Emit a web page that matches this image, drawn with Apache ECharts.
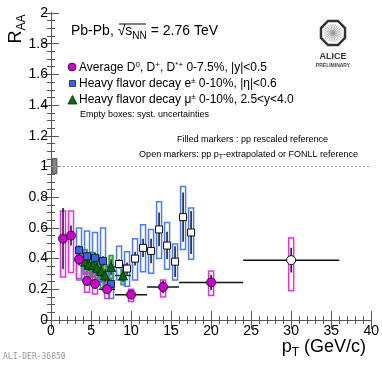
<!DOCTYPE html>
<html>
<head>
<meta charset="UTF-8">
<title>RAA heavy flavour Pb-Pb</title>
<script src="https://cdn.jsdelivr.net/npm/echarts@6.0.0/dist/echarts.min.js"></script>
<style>
  html, body { margin: 0; padding: 0; background: #fff; }
  #chart { width: 382px; height: 365px; }
</style>
</head>
<body>
<div id="chart"></div>
<script>
// average D0, D+, D*+ (pp rescaled reference, filled)
var dPt    = [1.5, 2.5, 3.5, 4.5, 5.5, 7, 10, 14, 20];
var dRaa   = [0.53, 0.55, 0.395, 0.255, 0.235, 0.20, 0.165, 0.215, 0.245];
var dStat  = [0.20, 0.065, 0.04, 0.03, 0.03, 0.03, 0.02, 0.04, 0.05];
var dXerr  = [0.5, 0.5, 0.5, 0.5, 0.5, 1, 2, 2, 4];
var dSysLo = [0.28, 0.31, 0.27, 0.18, 0.17, 0.14, 0.12, 0.15, 0.16];
var dSysHi = [0.71, 0.71, 0.47, 0.31, 0.30, 0.25, 0.20, 0.26, 0.32];
// D at 24-36 GeV/c, FONLL reference (open)
var dOpenPt    = [30];
var dOpenRaa   = [0.39];
var dOpenStat  = [0.08];
var dOpenXerr  = [6];
var dOpenSysLo = [0.19];
var dOpenSysHi = [0.535];

// HF decay electrons, filled (pp reference)
var ePt    = [3.5, 4.5, 5.5, 6.5, 7.5];
var eRaa   = [0.455, 0.415, 0.405, 0.385, 0.235];
var eStat  = [0.03, 0.03, 0.03, 0.03, 0.03];
var eXerr  = [0.5, 0.5, 0.5, 0.5, 0.5];
var eSysLo = [0.26, 0.23, 0.22, 0.21, 0.14];
var eSysHi = [0.60, 0.58, 0.57, 0.60, 0.36];
// HF decay electrons, open (extrapolated reference)
var eOpenPt    = [8.5, 9.5, 10.5, 11.5, 12.5, 13.5, 14.5, 15.5, 16.5, 17.5];
var eOpenRaa   = [0.365, 0.335, 0.40, 0.47, 0.45, 0.59, 0.485, 0.38, 0.67, 0.57];
var eOpenStat  = [0.03, 0.04, 0.045, 0.06, 0.08, 0.11, 0.09, 0.10, 0.16, 0.14];
var eOpenXerr  = [0.5, 0.5, 0.5, 0.5, 0.5, 0.5, 0.5, 0.5, 0.5, 0.5];
var eOpenSysLo = [0.26, 0.22, 0.26, 0.315, 0.305, 0.40, 0.33, 0.26, 0.46, 0.395];
var eOpenSysHi = [0.48, 0.445, 0.53, 0.62, 0.59, 0.77, 0.635, 0.495, 0.87, 0.73];

// HF decay muons, 2.5<y<4
var muPt    = [4.25, 4.75, 5.25, 5.75, 6.25, 6.75, 7.5, 9];
var muRaa   = [0.38, 0.36, 0.36, 0.34, 0.32, 0.29, 0.345, 0.29];
var muStat  = [0.04, 0.04, 0.04, 0.04, 0.04, 0.04, 0.05, 0.04];
var muXerr  = [0.25, 0.25, 0.25, 0.25, 0.25, 0.25, 0.5, 1];
var muSysLo = [0.30, 0.28, 0.28, 0.27, 0.25, 0.22, 0.27, 0.23];
var muSysHi = [0.46, 0.44, 0.44, 0.42, 0.40, 0.36, 0.42, 0.36];

// normalisation uncertainty at unity
var normPt = [0.45];
var normLo = [0.955];
var normHi = [1.05];
var refX = [0, 40];
var refY = [1, 1];

var xTicks = [0, 5, 10, 15, 20, 25, 30, 35, 40];

var FONT = '"Liberation Sans", Arial, sans-serif';

function boxData(xs, lo, hi) {
    return xs.map(function (x, i) { return [x, lo[i], hi[i]]; });
}
function errData(xs, ys, xe, ye) {
    return xs.map(function (x, i) { return [x, ys[i], xe[i], ye[i]]; });
}
function ptData(xs, ys) {
    return xs.map(function (x, i) { return [x, ys[i]]; });
}

function boxRender(w, stroke, fill) {
    return function (params, api) {
        var top = api.coord([api.value(0), api.value(2)]);
        var bot = api.coord([api.value(0), api.value(1)]);
        return {
            type: 'rect',
            shape: { x: top[0] - w / 2, y: top[1], width: w, height: bot[1] - top[1] },
            style: { fill: fill, stroke: stroke, lineWidth: 1.5 }
        };
    };
}
function errRender(color, lw) {
    return function (params, api) {
        var x = api.value(0), y = api.value(1), ex = api.value(2), ey = api.value(3);
        var a = api.coord([x - ex, y]), b = api.coord([x + ex, y]);
        var c = api.coord([x, y - ey]), d = api.coord([x, y + ey]);
        return {
            type: 'group',
            children: [
                { type: 'line', shape: { x1: a[0], y1: a[1], x2: b[0], y2: b[1] }, style: { stroke: color, lineWidth: lw } },
                { type: 'line', shape: { x1: c[0], y1: c[1], x2: d[0], y2: d[1] }, style: { stroke: color, lineWidth: lw } }
            ]
        };
    };
}
function boxSeries(data, w, stroke, fill) {
    return { type: 'custom', data: data, encode: { x: 0, y: 1 }, renderItem: boxRender(w, stroke, fill), silent: true };
}
function errSeries(data, color, lw) {
    return { type: 'custom', data: data, encode: { x: 0, y: 1 }, renderItem: errRender(color, lw), silent: true };
}
function markSeries(data, symbol, size, fill, border) {
    return {
        type: 'scatter', data: data, symbol: symbol, symbolSize: size,
        itemStyle: { color: fill, borderColor: border, borderWidth: 1, opacity: 1 }
    };
}

// ALICE logo bits (pure decoration)
var logoCx = 333, logoCy = 33, logoR = 13;
var octagon = [];
for (var k = 0; k < 8; k++) {
    var ang = Math.PI / 8 + k * Math.PI / 4;
    octagon.push([logoCx + logoR * Math.cos(ang), logoCy + logoR * Math.sin(ang)]);
}
var rays = [];
for (var r = 0; r < 24; r++) {
    var t = r * Math.PI / 12;
    rays.push({
        type: 'line',
        shape: { x1: logoCx, y1: logoCy, x2: logoCx + 9 * Math.cos(t), y2: logoCy + 9 * Math.sin(t) },
        style: { stroke: '#999', lineWidth: 0.7 }
    });
}

var sub = { fontSize: 10, fontFamily: FONT, verticalAlign: 'bottom', lineHeight: 10 };
var sup = { fontSize: 8, fontFamily: FONT, verticalAlign: 'top', lineHeight: 8 };

var chart = echarts.init(document.getElementById('chart'));

var axisStyle = { lineStyle: { color: '#555', width: 1 } };

var option = {
    animation: false,
    grid: { left: 51, right: 9, top: 13, bottom: 45, containLabel: false },
    xAxis: [{
        type: 'value', min: 0, max: 40, interval: 5,
        axisLine: axisStyle,
        axisTick: { inside: true, length: 9, lineStyle: { color: '#555' } },
        minorTick: { show: true, splitNumber: 5, length: 4, lineStyle: { color: '#555' } },
        splitLine: { show: false },
        axisLabel: { fontSize: 14, color: '#000', fontFamily: FONT, margin: 4,
            formatter: function (v) { return xTicks.indexOf(v) >= 0 ? String(v) : ''; } }
    }, {
        type: 'value', min: 0, max: 40, interval: 5, position: 'top',
        axisLine: axisStyle,
        axisTick: { inside: true, length: 9, lineStyle: { color: '#555' } },
        minorTick: { show: true, splitNumber: 5, length: 4, lineStyle: { color: '#555' } },
        splitLine: { show: false }, axisLabel: { show: false }
    }],
    yAxis: [{
        type: 'value', min: 0, max: 2, interval: 0.2,
        axisLine: axisStyle,
        axisTick: { inside: true, length: 8, lineStyle: { color: '#555' } },
        minorTick: { show: true, splitNumber: 4, length: 4, lineStyle: { color: '#555' } },
        splitLine: { show: false },
        axisLabel: { fontSize: 14, color: '#000', fontFamily: FONT, margin: 3 }
    }, {
        type: 'value', min: 0, max: 2, interval: 0.2, position: 'right',
        axisLine: axisStyle,
        axisTick: { inside: true, length: 8, lineStyle: { color: '#555' } },
        minorTick: { show: true, splitNumber: 4, length: 4, lineStyle: { color: '#555' } },
        splitLine: { show: false }, axisLabel: { show: false }
    }],
    series: [
        {
            type: 'line', data: ptData(refX, refY), symbol: 'none', silent: true,
            lineStyle: { color: '#999', width: 1, type: [2, 2] }
        },
        boxSeries(boxData(normPt, normLo, normHi), 4, '#666', '#888'),
        boxSeries(boxData(muPt, muSysLo, muSysHi), 4, '#2f9e2f', 'rgba(30,140,30,0.45)'),
        boxSeries(boxData(ePt, eSysLo, eSysHi), 5, '#4d7cf0', 'none'),
        boxSeries(boxData(eOpenPt, eOpenSysLo, eOpenSysHi), 5, '#4d7cf0', 'none'),
        boxSeries(boxData(dPt, dSysLo, dSysHi), 5, '#dd33dd', 'none'),
        boxSeries(boxData(dOpenPt, dOpenSysLo, dOpenSysHi), 5, '#dd33dd', 'none'),
        errSeries(errData(muPt, muRaa, muXerr, muStat), '#0e3d0e', 1.5),
        errSeries(errData(ePt, eRaa, eXerr, eStat), '#111', 1.5),
        errSeries(errData(eOpenPt, eOpenRaa, eOpenXerr, eOpenStat), '#111', 1.5),
        errSeries(errData(dPt, dRaa, dXerr, dStat), '#111', 1.5),
        errSeries(errData(dOpenPt, dOpenRaa, dOpenXerr, dOpenStat), '#111', 1.5),
        markSeries(ptData(muPt, muRaa), 'triangle', 9, '#0a6a0a', '#063006'),
        markSeries(ptData(ePt, eRaa), 'rect', 7, '#3366ee', '#222'),
        markSeries(ptData(eOpenPt, eOpenRaa), 'rect', 7, '#fff', '#111'),
        markSeries(ptData(dPt, dRaa), 'circle', 9, '#cc00cc', '#222'),
        markSeries(ptData(dOpenPt, dOpenRaa), 'circle', 9, '#fff', '#111')
    ],
    graphic: [
        {
            type: 'text', x: 16, y: 29, rotation: Math.PI / 2,
            style: {
                text: '{m|R}{s|AA}', align: 'center', verticalAlign: 'middle',
                rich: { m: { fontSize: 18, fontFamily: FONT, lineHeight: 24 }, s: { fontSize: 12, fontFamily: FONT, verticalAlign: 'bottom', lineHeight: 12 } }
            }
        },
        {
            type: 'text', x: 366, y: 347,
            style: {
                text: '{m|p}{s|T}{m| (GeV/c)}', align: 'right', verticalAlign: 'middle',
                rich: { m: { fontSize: 18, fontFamily: FONT, lineHeight: 24 }, s: { fontSize: 12, fontFamily: FONT, verticalAlign: 'bottom', lineHeight: 12 } }
            }
        },
        {
            type: 'text', x: 71, y: 31,
            style: {
                text: '{m|Pb-Pb, \u221a}{m|s}{s|NN}{m| = 2.76 TeV}', verticalAlign: 'middle',
                rich: { m: { fontSize: 14, fontFamily: FONT, lineHeight: 20 }, s: sub }
            }
        },
        { type: 'line', shape: { x1: 119, y1: 24, x2: 146, y2: 24 }, style: { stroke: '#000', lineWidth: 1 } },
        // legend
        { type: 'circle', shape: { cx: 72, cy: 67, r: 4 }, style: { fill: '#cc00cc', stroke: '#222', lineWidth: 0.8 } },
        {
            type: 'text', x: 79, y: 68,
            style: {
                text: '{m|Average D}{p|0}{m|, D}{p|+}{m|, D}{p|*+}{m| 0-7.5%, |y|<0.5}', verticalAlign: 'middle',
                rich: { m: { fontSize: 12, fontFamily: FONT, lineHeight: 15 }, p: sup }
            }
        },
        { type: 'rect', shape: { x: 69.5, y: 80.5, width: 6, height: 6 }, style: { fill: '#3366ee', stroke: '#222', lineWidth: 0.8 } },
        {
            type: 'text', x: 79, y: 84,
            style: {
                text: '{m|Heavy flavor decay e}{p|\u00b1}{m| 0-10%, |\u03b7|<0.6}', verticalAlign: 'middle',
                rich: { m: { fontSize: 12, fontFamily: FONT, lineHeight: 15 }, p: sup }
            }
        },
        { type: 'polygon', shape: { points: [[72.5, 95.5], [77, 104], [68, 104]] }, style: { fill: '#0a6a0a', stroke: '#063006', lineWidth: 0.8 } },
        {
            type: 'text', x: 79, y: 100,
            style: {
                text: '{m|Heavy flavor decay \u03bc}{p|\u00b1}{m| 0-10%, 2.5<y<4.0}', verticalAlign: 'middle',
                rich: { m: { fontSize: 12, fontFamily: FONT, lineHeight: 15 }, p: sup }
            }
        },
        { type: 'text', x: 80, y: 115, style: { text: 'Empty boxes: syst. uncertainties', fontSize: 9, fontFamily: FONT, fill: '#000', verticalAlign: 'middle' } },
        { type: 'text', x: 328, y: 140, style: { text: 'Filled markers : pp rescaled reference', fontSize: 9, fontFamily: FONT, fill: '#000', align: 'right', verticalAlign: 'middle' } },
        {
            type: 'text', x: 358, y: 155,
            style: {
                text: '{m|Open markers: pp p}{s|T}{m|-extrapolated or FONLL reference}', align: 'right', verticalAlign: 'middle',
                rich: { m: { fontSize: 9, fontFamily: FONT, lineHeight: 12 }, s: { fontSize: 7, fontFamily: FONT, verticalAlign: 'bottom', lineHeight: 7 } }
            }
        },
        { type: 'text', x: 3, y: 357, style: { text: 'ALI-DER-36850', fontSize: 8, fontFamily: '"DejaVu Sans Mono", monospace', fill: '#999', verticalAlign: 'middle' } },
        // ALICE logo
        { type: 'group', children: rays },
        { type: 'polygon', shape: { points: octagon }, style: { fill: 'none', stroke: '#333', lineWidth: 2.5 } },
        { type: 'text', x: 333, y: 57, style: { text: 'ALICE', fontSize: 9, fontWeight: 'bold', fontFamily: FONT, fill: '#333', align: 'center', verticalAlign: 'middle' } },
        { type: 'text', x: 333, y: 66, style: { text: 'PRELIMINARY', fontSize: 5, fontWeight: 'bold', fontFamily: FONT, fill: '#444', align: 'center', verticalAlign: 'middle' } }
    ]
};

chart.setOption(option);
</script>
</body>
</html>
